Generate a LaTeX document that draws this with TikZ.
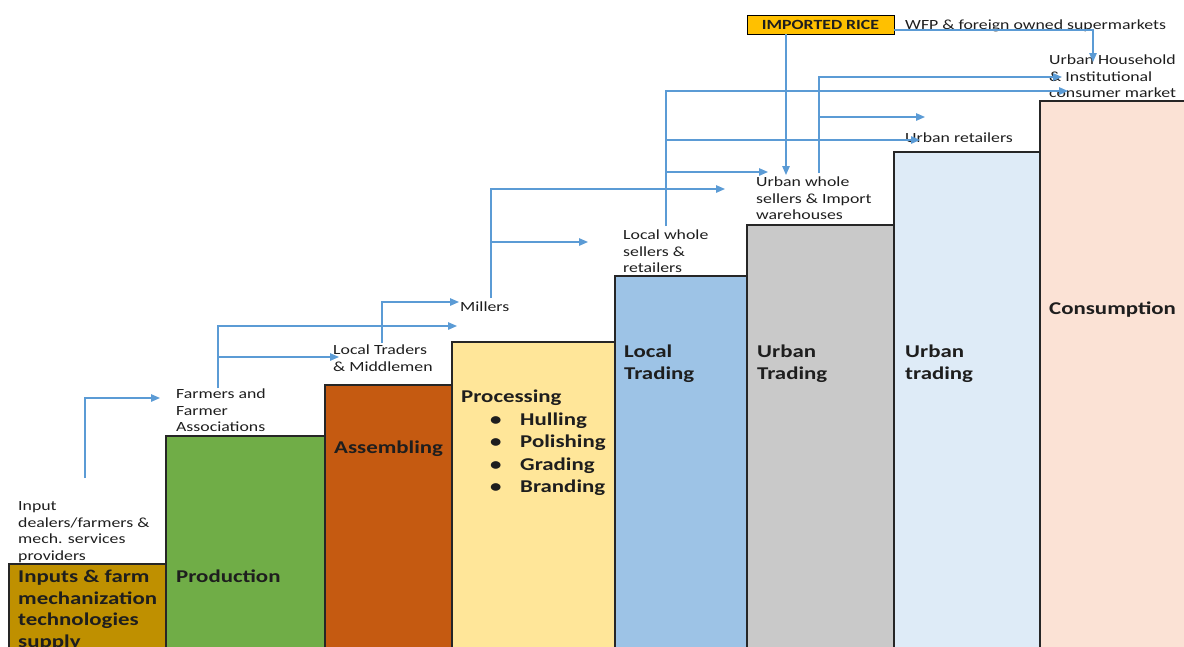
\documentclass[tikz,border=0pt]{standalone}
\usepackage{fontspec}
\setmainfont{Carlito}[FakeStretch=1.27]
\usetikzlibrary{arrows.meta}
\definecolor{txt}{HTML}{1E1E1E}
\definecolor{flow}{HTML}{5B9BD5}
\definecolor{barline}{HTML}{262626}
\definecolor{cInp}{HTML}{BF9000}
\definecolor{cProd}{HTML}{70AD47}
\definecolor{cAss}{HTML}{C55A11}
\definecolor{cProc}{HTML}{FFE699}
\definecolor{cLoc}{HTML}{9DC3E6}
\definecolor{cUrb}{HTML}{C9C9C9}
\definecolor{cUrbL}{HTML}{DEEBF7}
\definecolor{cCons}{HTML}{FBE2D5}
\definecolor{cRice}{HTML}{FFC000}
\begin{document}
\begin{tikzpicture}[x=1pt,y=-1pt,
  lbl/.style={anchor=north west, inner sep=0pt, align=left, text=txt,
    font=\fontsize{14}{16.7}\selectfont},
  blbl/.style={anchor=north west, inner sep=0pt, align=left, text=txt,
    font=\bfseries\fontsize{18}{21.5}\selectfont},
  bar/.style={draw=barline, line width=1.3pt},
  arr/.style={draw=flow, line width=1.3pt, -{Triangle[length=9pt,width=7.5pt]}}]
\useasboundingbox (0,0) rectangle (1184,646);
\clip (0,0) rectangle (1184,646);
% bars
\draw[bar, fill=cCons] (1040,101) rectangle (1200,700);
\draw[bar, fill=cUrbL] (894,152) rectangle (1040,700);
\draw[bar, fill=cUrb] (747,225) rectangle (894,700);
\draw[bar, fill=cLoc] (615,276) rectangle (747,700);
\draw[bar, fill=cProc] (452,342) rectangle (615,700);
\draw[bar, fill=cAss] (325,385) rectangle (452,700);
\draw[bar, fill=cProd] (166,436) rectangle (325,700);
\draw[bar, fill=cInp] (9,564) rectangle (166,700);
% bar labels
\node[blbl] (tInp) at (18,569.8) {Inputs \& farm\\mechanization\\technologies\\supply};
\node[blbl] (tProd) at (176,569.8) {Production};
\node[blbl] (tAss) at (334,440.8) {Assembling};
\node[blbl, font=\bfseries\fontsize{18}{22.5}\selectfont] (tProc) at (461,389.8)
  {Processing\\
   \makebox[59pt][l]{\hspace*{29pt}•}Hulling\\
   \makebox[59pt][l]{\hspace*{29pt}•}Polishing\\
   \makebox[59pt][l]{\hspace*{29pt}•}Grading\\
   \makebox[59pt][l]{\hspace*{29pt}•}Branding};
\node[blbl] (tLoc) at (624,344.8) {Local\\Trading};
\node[blbl] (tUrb) at (757,344.8) {Urban\\Trading};
\node[blbl] (tUrbL) at (905,344.8) {Urban\\trading};
\node[blbl] (tCons) at (1049,301.8) {Consumption};
% actor labels
\node[lbl] (inp) at (18,501.4) {Input\\dealers/farmers \&\\mech. services\\providers};
\node[lbl] (farm) at (176,388.4) {Farmers and\\Farmer\\Associations};
\node[lbl] (ltr) at (333,344.4) {Local Traders\\\& Middlemen};
\node[lbl] (mill) at (460,301.4) {Millers};
\node[lbl] (lws) at (623,229.4) {Local whole\\sellers \&\\retailers};
\node[lbl] (uws) at (756,176.4) {Urban whole\\sellers \& Import\\warehouses};
\node[lbl] (uret) at (905,132.4) {Urban retailers};
\node[lbl] (uhh) at (1049,54.4) {Urban Household\\\& Institutional\\consumer market};
\node[lbl] (wfp) at (905,19.4) {WFP \& foreign owned supermarkets};
\node[draw=black, line width=1pt, fill=cRice, minimum width=147pt, minimum height=19pt,
  inner sep=0pt, text=txt, font=\bfseries\fontsize{14}{16}\selectfont] (rice) at (820.5,24.5) {IMPORTED RICE};
% connector coordinates
\coordinate (a1s) at (85,478);   \coordinate (a1e) at (160,398);
\coordinate (f0) at (218,388);   \coordinate (f1e) at (457,326);
\coordinate (fb) at (218,357);   \coordinate (fbe) at (339,357);
\coordinate (t0) at (382,343);   \coordinate (t1e) at (459,302);
\coordinate (m0) at (491,298);   \coordinate (m1e) at (725,189);
\coordinate (mb) at (491,242);   \coordinate (mbe) at (588,242);
\coordinate (l0) at (666,226);   \coordinate (l1e) at (1068,91);
\coordinate (lb1) at (666,140);  \coordinate (lb1e) at (920,140);
\coordinate (lb2) at (666,172);  \coordinate (lb2e) at (768,172);
\coordinate (u0) at (819,173);   \coordinate (u1e) at (1062,77);
\coordinate (ub) at (819,117);   \coordinate (ube) at (925,117);
\coordinate (r0) at (786,34);    \coordinate (r0e) at (786,175);
\coordinate (r1) at (894,30);    \coordinate (r1e) at (1093,62);
% connectors
\draw[arr] (a1s) |- (a1e);
\draw[arr] (f0) |- (f1e);
\draw[arr] (fb) -- (fbe);
\draw[arr] (t0) |- (t1e);
\draw[arr] (m0) |- (m1e);
\draw[arr] (mb) -- (mbe);
\draw[arr] (l0) |- (l1e);
\draw[arr] (lb1) -- (lb1e);
\draw[arr] (lb2) -- (lb2e);
\draw[arr] (u0) |- (u1e);
\draw[arr] (ub) -- (ube);
\draw[arr] (r0) -- (r0e);
\draw[arr] (r1) -| (r1e);
\end{tikzpicture}
\end{document}
